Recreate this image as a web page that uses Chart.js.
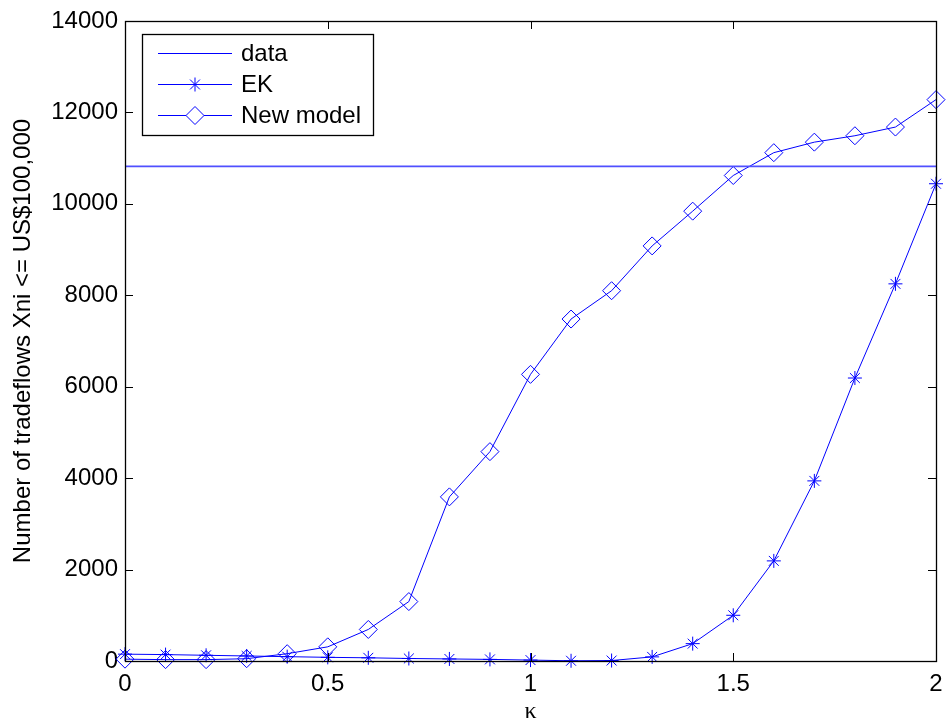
<!DOCTYPE html>
<html>
<head>
<meta charset="utf-8">
<script src="https://cdn.jsdelivr.net/npm/chart.js@4/dist/chart.umd.min.js"></script>
<style>
  html, body { margin: 0; padding: 0; background: #ffffff; }
  #wrap { width: 948px; height: 726px; }
</style>
</head>
<body>
<div id="wrap"><canvas id="c" width="948" height="726"></canvas></div>
<script>
// kappa grid used by both models
const kappa = [0, 0.1, 0.2, 0.3, 0.4, 0.5, 0.6, 0.7, 0.8, 0.9, 1.0,
               1.1, 1.2, 1.3, 1.4, 1.5, 1.6, 1.7, 1.8, 1.9, 2.0];

// observed number of small trade flows (constant reference level)
const observedFlows = 10820;

// EK model predictions
const ekFlows = [150, 140, 125, 110, 95, 80, 70, 55, 45, 35, 20,
                 5, 10, 90, 380, 1000, 2190, 3940, 6190, 8250, 10440];

// new model predictions
const newModelFlows = [40, 30, 30, 50, 160, 310, 690, 1300, 3590, 4580, 6270,
                       7480, 8100, 9080, 9840, 10620, 11120, 11350, 11490, 11680, 12280];

const xTicks = [0, 0.5, 1, 1.5, 2];
const yTicks = [0, 2000, 4000, 6000, 8000, 10000, 12000, 14000];

const seriesNames = ['data', 'EK', 'New model'];

const BLUE = '#0000ff';
const FONT = 'Liberation Sans, Arial, Helvetica, sans-serif';

const toPoints = (ys) => kappa.map((k, i) => ({ x: k, y: ys[i] }));

// marker shapes shared by the legend
function drawMarker(ctx, style, r, x, y, color) {
  ctx.save();
  ctx.strokeStyle = color;
  ctx.lineWidth = 1;
  ctx.beginPath();
  if (style === 'star') {
    const d = r * Math.SQRT1_2;
    ctx.moveTo(x - r, y); ctx.lineTo(x + r, y);
    ctx.moveTo(x, y - r); ctx.lineTo(x, y + r);
    ctx.moveTo(x - d, y - d); ctx.lineTo(x + d, y + d);
    ctx.moveTo(x - d, y + d); ctx.lineTo(x + d, y - d);
  } else if (style === 'rectRot') {
    ctx.moveTo(x - r, y); ctx.lineTo(x, y - r);
    ctx.lineTo(x + r, y); ctx.lineTo(x, y + r);
    ctx.closePath();
    ctx.fillStyle = '#fff';
    ctx.fill();
  }
  ctx.stroke();
  ctx.restore();
}

// MATLAB-style frame: full box with inward ticks on all four sides
const boxTicks = {
  id: 'boxTicks',
  afterDraw(chart) {
    const { ctx, chartArea: a, scales } = chart;
    const len = 8;
    ctx.save();
    ctx.strokeStyle = '#000';
    ctx.lineWidth = 1;
    ctx.beginPath();
    xTicks.forEach(v => {
      const px = Math.round(scales.x.getPixelForValue(v)) + 0.5;
      ctx.moveTo(px, a.bottom); ctx.lineTo(px, a.bottom - len);
      ctx.moveTo(px, a.top); ctx.lineTo(px, a.top + len);
    });
    yTicks.forEach(v => {
      const py = Math.round(scales.y.getPixelForValue(v)) + 0.5;
      ctx.moveTo(a.left, py); ctx.lineTo(a.left + len, py);
      ctx.moveTo(a.right, py); ctx.lineTo(a.right - len, py);
    });
    ctx.stroke();
    ctx.lineWidth = 1.3;
    ctx.strokeRect(Math.round(a.left) + 0.5, Math.round(a.top) + 0.5,
                   Math.round(a.right - a.left), Math.round(a.bottom - a.top));
    ctx.restore();
  }
};

// legend box in the upper-left corner of the axes
const insetLegend = {
  id: 'insetLegend',
  afterDraw(chart) {
    const { ctx, chartArea: a } = chart;
    const x0 = a.left + 17, y0 = a.top + 13, w = 231, h = 101;
    const rowH = 31.2;
    ctx.save();
    ctx.fillStyle = '#fff';
    ctx.fillRect(x0, y0, w, h);
    ctx.strokeStyle = '#000';
    ctx.lineWidth = 1.3;
    ctx.strokeRect(x0 + 0.5, y0 + 0.5, w, h);
    chart.data.datasets.forEach((ds, i) => {
      const cy = Math.round(y0 + 19 + i * rowH) + 0.5;
      ctx.strokeStyle = BLUE;
      ctx.lineWidth = 1;
      ctx.beginPath();
      ctx.moveTo(x0 + 16, cy); ctx.lineTo(x0 + 90, cy);
      ctx.stroke();
      if (ds.pointRadius > 0) {
        drawMarker(ctx, ds.pointStyle, ds.pointRadius, x0 + 53, cy, BLUE);
      }
      ctx.fillStyle = '#000';
      ctx.font = '24px ' + FONT;
      ctx.textBaseline = 'middle';
      ctx.textAlign = 'left';
      ctx.fillText(ds.label, x0 + 99, cy + 1);
    });
    ctx.restore();
  }
};

new Chart(document.getElementById('c'), {
  type: 'line',
  data: {
    datasets: [
      {
        label: seriesNames[0],
        data: [{ x: kappa[0], y: observedFlows }, { x: kappa[kappa.length - 1], y: observedFlows }],
        borderColor: 'rgb(80,80,255)',
        borderWidth: 1.6,
        pointRadius: 0,
        fill: false
      },
      {
        label: seriesNames[1],
        data: toPoints(ekFlows),
        borderColor: BLUE,
        borderWidth: 1,
        pointStyle: 'star',
        pointRadius: 7,
        pointBorderColor: BLUE,
        pointBackgroundColor: 'rgba(0,0,0,0)',
        pointBorderWidth: 1,
        fill: false,
        clip: false
      },
      {
        label: seriesNames[2],
        data: toPoints(newModelFlows),
        borderColor: BLUE,
        borderWidth: 1,
        pointStyle: 'rectRot',
        pointRadius: 9,
        pointBorderColor: BLUE,
        pointBackgroundColor: 'rgba(0,0,0,0)',
        pointBorderWidth: 1,
        fill: false,
        clip: false
      }
    ]
  },
  options: {
    responsive: false,
    animation: false,
    devicePixelRatio: 1,
    layout: { autoPadding: false, padding: { left: 0, top: 21, right: 12, bottom: 0 } },
    plugins: {
      legend: { display: false },
      tooltip: { enabled: false }
    },
    elements: { line: { tension: 0 } },
    scales: {
      x: {
        type: 'linear',
        min: 0,
        max: 2,
        afterFit(scale) {
          scale.height = 65;
          scale.paddingLeft = 0;
          scale.paddingRight = 0;
        },
        afterBuildTicks(scale) { scale.ticks = xTicks.map(v => ({ value: v })); },
        grid: { display: false, drawTicks: false },
        border: { display: false },
        ticks: {
          padding: 9,
          color: '#000',
          font: { family: FONT, size: 24 },
          maxRotation: 0,
          callback: (v) => String(v)
        },
        title: {
          display: true,
          text: 'κ',
          color: '#000',
          font: { family: 'Liberation Serif, Times New Roman, serif', size: 24 },
          padding: { top: 0, bottom: 0 }
        }
      },
      y: {
        type: 'linear',
        min: 0,
        max: 14000,
        afterFit(scale) {
          scale.width = 125;
          scale.paddingTop = 0;
          scale.paddingBottom = 0;
        },
        afterBuildTicks(scale) { scale.ticks = yTicks.map(v => ({ value: v })); },
        grid: { display: false, drawTicks: false },
        border: { display: false },
        ticks: {
          padding: 7,
          color: '#000',
          font: { family: FONT, size: 24 },
          callback: (v) => String(v)
        },
        title: {
          display: true,
          text: 'Number of tradeflows Xni <= US$100,000',
          color: '#000',
          font: { family: FONT, size: 24 },
          padding: { top: 9, bottom: 0 }
        }
      }
    }
  },
  plugins: [boxTicks, insetLegend]
});
</script>
</body>
</html>
